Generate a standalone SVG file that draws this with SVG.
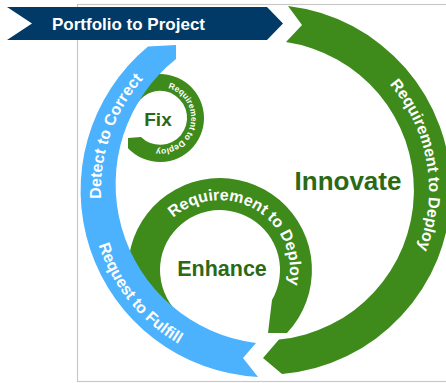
<svg xmlns="http://www.w3.org/2000/svg" width="446" height="383" viewBox="0 0 446 383">
<style>
.green{fill:#3e8a1b}
.blue{fill:#4cb2fe}
.lbl{font-family:"Liberation Sans",Arial,sans-serif;font-weight:bold;fill:#2c6915;text-anchor:middle}
.arc{font-family:"Liberation Sans",Arial,sans-serif;font-weight:bold;fill:#ffffff}
</style>
<defs>
<path id="pInnov" d="M 389.5 84.4 A 161 161 0 0 1 391.3 293.5"/>
<path id="pDetect" d="M 101.2 198.7 A 167 167 0 0 1 184.5 45.4"/>
<path id="pRequest" d="M 98.7 245 A 178 178 0 0 0 237.1 365.3"/>
<path id="pFix" d="M 168 88.1 A 31 31 0 1 1 136.3 137.9"/>
<path id="pEnh" d="M 173.2 218 A 70 70 0 0 1 280.6 305"/>
</defs>
<rect x="77.5" y="4.5" width="400" height="377" fill="#ffffff" stroke="#c8c8c8" stroke-width="1.2"/>
<g id="banner">
<polygon points="7,7 267,7 283,23.5 267,40 7,40 32,23.5" fill="#013a66"/>
<text x="52" y="29.5" font-family="Liberation Sans,Arial,sans-serif" font-weight="bold" font-size="17" fill="#ffffff">Portfolio to Project</text>
</g>
<g id="fix">
<path class="green" d="M 121.9 96 A 44 44 0 1 1 128 148.2 L 128 138 L 141 137 A 27 27 0 1 0 136.6 104.5 Z"/>
<text class="lbl" x="158" y="125.5" font-size="19">Fix</text>
<text class="arc" font-size="8.5"><textPath href="#pFix">Requirement to Deploy</textPath></text>
</g>
<g id="enhance">
<path class="green" d="M 185.6 319.2 L 167.2 345.4 A 92 92 0 1 1 287 333 L 268 333 L 272 300 A 60 60 0 1 0 185.6 319.2 Z"/>
<text class="lbl" x="222" y="276" font-size="21.5">Enhance</text>
<text class="arc" font-size="16"><textPath href="#pEnh">Requirement to Deploy</textPath></text>
</g>
<g id="request-detect">
<path class="blue" d="M 243 358 L 258 377 A 187 187 0 0 1 148 46.5 L 176 45 L 176 59 A 160 160 0 0 0 256 343 Z"/>
<text class="arc" font-size="16"><textPath href="#pDetect">Detect to Correct</textPath></text>
<text class="arc" font-size="16"><textPath href="#pRequest">Request to Fulfill</textPath></text>
</g>
<g id="innovate">
<path class="green" d="M 302 25 L 288 6 A 185 185 0 0 1 282 374 L 263 358 L 279 339.6 A 150 150 0 0 0 286 42 Z"/>
<text class="lbl" x="348" y="190" font-size="26">Innovate</text>
<text class="arc" font-size="16"><textPath href="#pInnov">Requirement to Deploy</textPath></text>
</g>
<g id="connectors"></g>
</svg>
